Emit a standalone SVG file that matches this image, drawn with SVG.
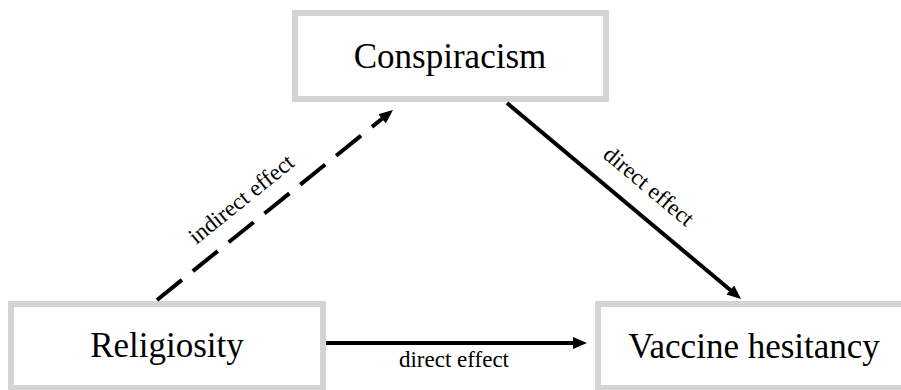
<svg xmlns="http://www.w3.org/2000/svg" width="901" height="390" viewBox="0 0 901 390">
  <style>
    .box { fill: #ffffff; stroke: #d4d4d4; stroke-width: 6; }
    .node-label { font-family: "Liberation Serif", "Times New Roman", serif; font-size: 35px; fill: #000000; text-anchor: middle; }
    .edge { stroke: #000000; stroke-width: 4; fill: none; }
    .dashed { stroke-dasharray: 32 14; }
    .edge-label { font-family: "Liberation Serif", "Times New Roman", serif; font-size: 23px; fill: #000000; text-anchor: middle; }
  </style>
  <defs>
    <marker id="ah" viewBox="0 0 14 12" markerWidth="14" markerHeight="12" markerUnits="userSpaceOnUse" refX="2" refY="6" orient="auto">
      <path d="M0,0 L14,6 L0,12 z" fill="#000000"/>
    </marker>
  </defs>
  <rect x="0" y="0" width="901" height="390" fill="#ffffff"/>

  <g id="node-conspiracism">
    <rect class="box" x="295" y="13" width="311" height="86"/>
    <text class="node-label" x="450" y="68">Conspiracism</text>
  </g>
  <g id="node-religiosity">
    <rect class="box" x="11" y="304" width="312" height="84"/>
    <text class="node-label" x="167" y="357">Religiosity</text>
  </g>
  <g id="node-vaccine">
    <rect class="box" x="598" y="304" width="320" height="84"/>
    <text class="node-label" x="754" y="358">Vaccine hesitancy</text>
  </g>

  <g id="connectors">
    <line class="edge dashed" x1="157" y1="300" x2="383.6" y2="117.5" marker-end="url(#ah)"/>
    <line class="edge" x1="507" y1="103" x2="731.8" y2="291.3" marker-end="url(#ah)"/>
    <line class="edge" x1="326" y1="343" x2="575" y2="343" marker-end="url(#ah)"/>
    <text class="edge-label" transform="translate(246,205) rotate(-38.8)">indirect effect</text>
    <text class="edge-label" transform="translate(644,192) rotate(40)">direct effect</text>
    <text class="edge-label" x="454" y="367">direct effect</text>
  </g>
</svg>
